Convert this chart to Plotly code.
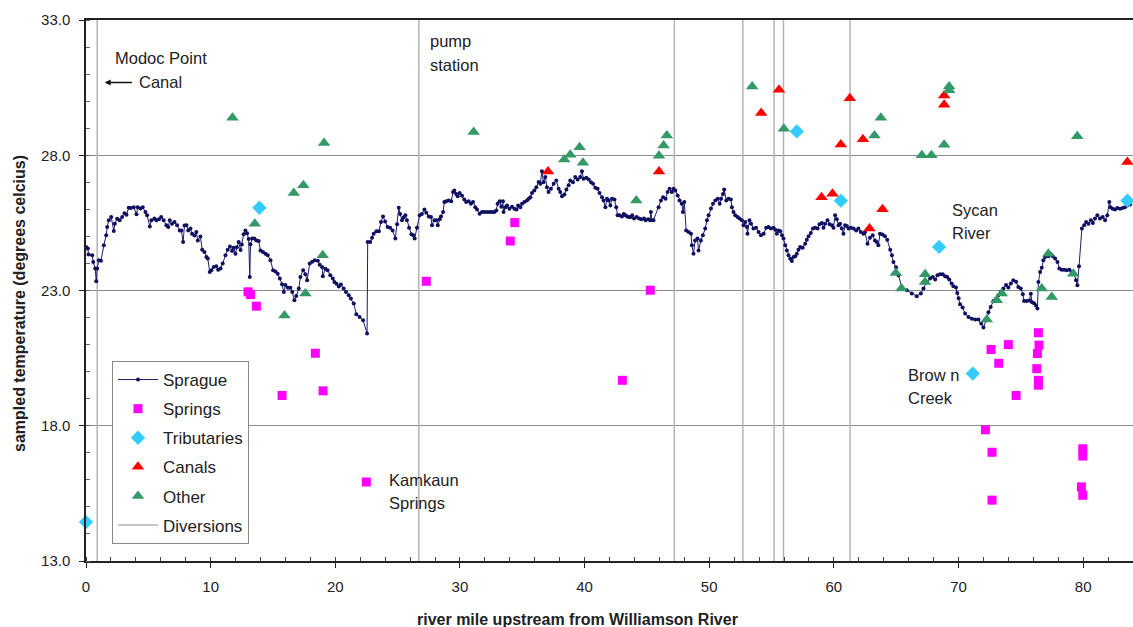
import plotly.graph_objects as go

# ---------------- data ----------------
sprague_x = [0.0,0.15,0.2,0.5,0.58,0.74,0.82,0.9,1.03,1.2,1.43,1.62,1.7,1.83,2.02,2.23,2.31,2.5,2.7,2.9,3.09,3.25,3.43,3.6,3.83,4.05,4.15,4.37,4.55,4.77,4.9,5.12,5.25,5.49,5.65,5.85,6.03,6.23,6.45,6.6,6.72,6.9,7.1,7.31,7.52,7.65,7.79,7.9,8.06,8.2,8.38,8.51,8.7,8.85,8.97,9.18,9.32,9.5,9.66,9.77,9.93,10.06,10.25,10.45,10.6,10.8,10.97,11.19,11.37,11.55,11.72,11.85,11.99,12.1,12.25,12.4,12.5,12.65,12.79,12.92,13.05,13.14,13.2,13.33,13.5,13.67,13.85,14.0,14.2,14.4,14.58,14.8,15.01,15.2,15.38,15.55,15.73,15.87,16.0,16.2,16.4,16.55,16.72,16.87,17.07,17.2,17.42,17.6,17.74,17.95,18.15,18.35,18.6,18.75,18.94,19.0,19.2,19.38,19.6,19.8,19.93,20.1,20.28,20.45,20.67,20.86,21.08,21.25,21.48,21.69,21.95,22.23,22.55,22.6,22.8,
 22.95,23.08,23.3,23.5,23.67,23.83,24.0,24.2,24.4,24.6,24.82,24.96,25.09,25.2,25.35,25.48,25.62,25.75,25.92,26.1,26.25,26.37,26.55,26.77,26.95,27.15,27.3,27.5,27.68,27.76,27.95,28.12,28.22,28.38,28.48,28.65,28.75,28.9,29.1,29.3,29.45,29.55,29.7,29.82,29.98,30.17,30.35,30.5,30.7,30.88,31.05,31.23,31.37,31.58,31.77,31.96,32.17,32.38,32.57,32.76,32.92,33.02,33.19,33.32,33.45,33.5,33.65,33.78,33.97,34.18,34.37,34.54,34.67,34.85,34.98,35.17,35.38,35.52,35.65,35.78,35.97,36.13,36.31,36.45,36.58,36.7,36.85,36.98,37.11,37.3,37.52,37.73,37.92,38.05,38.19,38.38,38.54,38.72,38.85,39.07,39.25,39.44,39.65,39.79,39.92,40.14,40.33,40.52,40.68,40.86,41.05,41.2,41.4,41.53,41.67,41.8,41.93,42.07,42.2,42.4,42.54,42.65,42.8,43.0,43.15,43.28,43.42,43.55,43.7,43.82,43.97,44.18,44.37,44.55,44.77,44.9,45.1,45.25,45.32,45.4,45.53,
 45.94,46.13,46.3,46.5,46.66,46.82,47.0,47.14,47.28,47.47,47.62,47.8,47.89,48.0,48.15,48.35,48.54,48.61,48.74,48.87,49.06,49.14,49.33,49.49,49.68,49.82,49.95,50.14,50.3,50.49,50.68,50.84,50.95,51.11,51.2,51.37,51.55,51.74,51.82,51.95,52.09,52.27,52.43,52.62,52.75,52.89,53.02,53.07,53.23,53.36,53.55,53.76,53.96,54.15,54.37,54.57,54.76,54.95,55.16,55.3,55.43,55.57,55.7,55.84,55.96,56.1,56.23,56.36,56.5,56.63,56.76,56.9,57.03,57.16,57.3,57.5,57.7,57.83,57.97,58.15,58.32,58.5,58.69,58.85,59.04,59.17,59.3,59.49,59.66,59.84,59.97,60.1,60.24,60.37,60.5,60.64,60.77,60.9,61.04,61.17,61.36,61.58,61.79,61.97,62.16,62.37,62.5,62.7,62.9,63.12,63.3,63.44,63.57,63.7,63.9,64.1,64.28,
 64.52,64.66,64.78,64.99,65.18,65.45,65.85,66.25,66.65,66.98,67.19,67.46,67.72,67.94,68.13,68.31,68.52,68.73,68.92,69.1,69.26,69.45,69.59,69.8,69.9,70.01,70.12,70.33,70.53,70.8,71.07,71.34,71.6,71.82,72.0,72.21,72.4,72.58,72.8,73.0,73.2,73.39,73.6,73.82,74.0,74.2,74.4,74.62,74.8,75.0,75.16,75.26,75.47,75.69,75.8,75.9,76.06,76.22,76.33,76.41,76.55,76.68,76.81,76.95,77.22,77.4,77.57,77.75,77.94,78.09,78.28,78.47,78.68,78.9,79.08,79.27,79.43,79.54,79.67,79.9,80.08,80.24,80.43,80.62,80.78,80.95,81.14,81.35,81.57,81.76,81.94,82.1,82.2,82.37,82.56,82.74,82.96,83.17,83.36,83.55,83.77]
sprague_y = [24.61,24.55,24.33,24.3,24.05,23.81,23.34,23.81,24.12,24.1,24.67,25.04,25.35,25.6,25.72,25.2,25.47,25.65,25.6,25.72,25.86,25.8,26.06,26.05,26.08,25.82,26.08,26.03,26.08,25.9,25.78,25.37,25.6,25.66,25.6,25.63,25.72,25.6,25.41,25.35,25.6,25.47,25.53,25.41,25.22,25.22,24.79,25.4,25.41,25.22,25.29,25.1,25.03,25.16,24.85,25.0,24.51,24.42,24.24,24.18,23.68,23.75,23.87,23.9,23.77,23.81,24.0,24.3,24.51,24.63,24.46,24.58,24.36,24.6,24.79,24.5,24.7,25.08,25.22,25.12,24.9,23.5,24.71,24.92,24.92,24.85,24.83,24.48,24.42,24.36,24.3,24.12,23.75,23.7,23.62,23.44,23.23,22.94,23.2,23.1,23.1,22.94,22.64,22.8,23.07,23.5,23.75,23.6,23.38,24.0,24.06,24.12,24.1,23.95,23.87,23.53,23.8,23.75,23.56,23.44,23.31,23.25,23.15,23.22,23.07,22.94,22.82,22.7,22.52,22.12,22.02,21.9,21.41,24.79,24.79,
 24.95,25.1,25.19,25.19,25.53,25.74,25.55,25.35,25.32,25.22,24.92,25.45,26.06,25.83,25.6,25.7,25.78,25.6,25.32,25.08,25.04,24.92,25.32,25.78,25.83,25.99,25.87,25.74,25.72,25.41,25.6,25.6,25.41,25.63,25.74,25.9,26.27,26.3,26.33,26.3,26.64,26.7,26.57,26.48,26.6,26.5,26.36,26.27,26.3,26.21,26.27,26.08,25.99,25.84,25.9,25.9,25.9,25.9,25.9,25.9,25.96,26.21,26.3,26.1,26.3,25.9,26.08,26.14,26.02,26.1,26.02,25.99,26.14,26.08,26.21,26.27,26.33,26.39,26.45,26.6,26.7,26.82,27.01,26.95,27.41,27.0,27.2,26.82,26.64,26.76,26.95,27.07,26.76,26.64,26.48,26.55,26.73,26.89,27.07,27.0,27.2,27.1,27.2,27.41,27.13,27.17,27.1,27.0,26.95,26.8,26.76,26.6,26.45,26.33,26.08,26.39,26.33,26.14,26.39,26.36,26.08,25.78,25.78,25.74,25.83,25.78,25.74,25.72,25.72,25.78,25.66,25.72,25.66,25.63,25.66,25.6,25.63,25.6,25.9,25.6,25.6,
 26.08,26.33,26.45,26.39,26.64,26.76,26.64,26.76,26.7,26.51,26.33,26.21,25.9,26.27,25.22,25.16,25.1,24.67,24.36,24.85,24.92,24.48,24.85,25.04,25.29,25.6,25.78,26.03,26.21,26.33,26.39,26.21,26.39,26.57,26.73,26.33,26.39,26.36,26.08,25.9,25.78,25.72,25.66,25.6,25.41,25.53,25.35,25.1,25.6,25.47,25.29,25.32,25.16,25.04,25.1,25.32,25.35,25.29,25.32,25.25,25.1,25.22,25.19,25.04,24.92,24.67,24.48,24.3,24.17,24.09,24.24,24.27,24.36,24.51,24.61,24.58,24.73,24.88,25.01,25.13,25.29,25.32,25.29,25.45,25.5,25.32,25.47,25.6,25.45,25.41,25.32,25.78,25.63,25.41,25.47,25.29,25.1,25.41,25.38,25.29,25.32,25.29,25.22,25.29,25.16,25.1,25.16,24.73,24.95,25.04,24.85,24.79,24.67,25.1,25.07,25.01,24.88,
 24.51,24.3,24.05,23.86,23.56,23.13,23.01,22.89,22.79,22.89,23.07,23.31,23.44,23.5,23.41,23.56,23.6,23.6,23.53,23.5,23.41,23.26,23.16,23.11,22.91,22.71,22.49,22.37,22.15,22.02,21.96,21.93,21.93,21.78,21.63,21.9,22.2,22.39,22.61,22.69,22.82,22.95,23.07,23.2,23.11,23.26,23.38,23.32,23.13,23.07,22.86,22.61,22.61,22.63,22.88,22.57,22.53,22.45,22.33,23.31,23.68,23.84,24.12,24.24,24.27,24.35,24.27,24.18,24.05,23.81,23.77,23.77,23.75,23.77,23.68,23.62,23.38,23.19,23.9,25.29,25.41,25.53,25.47,25.6,25.5,25.66,25.78,25.66,25.72,25.6,25.78,26.27,26.08,26.02,25.99,26.05,26.02,26.05,26.08,26.14,26.18]

springs_x = [13.0,13.2,13.67,18.4,15.73,19.02,22.49,27.3,34.04,34.4,43.03,45.27,
             76.41,72.61,74.0,76.46,76.33,73.23,76.28,76.41,76.41,74.62,72.16,72.69,72.69,79.97,79.97,79.86,79.97]
springs_y = [22.95,22.85,22.42,20.68,19.12,19.29,15.92,23.34,24.83,25.51,19.68,23.01,
             21.44,20.82,21.0,20.98,20.67,20.31,20.11,19.68,19.5,19.12,17.85,17.02,15.25,17.15,16.88,15.74,15.43]

trib_x = [0.0,13.91,57.03,60.56,68.44,83.55,71.15]
trib_y = [14.44,26.06,28.88,26.32,24.61,26.32,19.93]

canal_x = [37.07,45.97,54.17,55.6,61.28,60.56,62.33,59.01,59.89,63.9,62.86,68.85,68.85,83.55]
canal_y = [27.4,27.4,29.56,30.42,30.11,28.4,28.59,26.45,26.58,26.0,25.29,30.21,29.87,27.75]

other_x = [11.75,19.1,16.67,17.44,13.54,18.99,17.6,15.92,31.1,38.37,38.85,39.6,39.87,44.15,45.97,46.34,46.6,
           53.45,55.99,63.77,63.26,67.06,67.83,68.85,69.25,69.25,79.53,64.97,65.42,67.32,67.32,72.27,73.07,73.47,
           76.68,77.48,77.21,79.21]
other_y = [29.39,28.45,26.6,26.89,25.47,24.3,22.89,22.08,28.86,27.84,28.02,28.3,27.72,26.33,27.98,28.36,28.73,
           30.54,28.98,29.39,28.73,28.0,28.0,28.39,30.54,30.4,28.7,23.65,23.07,23.6,23.31,21.93,22.64,22.89,
           23.07,22.76,24.36,23.62]

diversion_miles = [0.9, 26.7, 47.2, 52.7, 55.2, 55.96, 61.3]
y_range = [13.0, 33.0]
x_range = [0.0, 84.0]

# ---------------- figure ----------------
FONT = "Liberation Sans, Arial, sans-serif"
TXT = "#222222"
fig = go.Figure()

div_x, div_y = [], []
for m in diversion_miles:
    div_x += [m, m, None]
    div_y += [y_range[0], y_range[1], None]

fig.add_trace(go.Scatter(x=div_x, y=div_y, mode="lines", name="Diversions",
                         line=dict(color="#b4b4b4", width=1.5), legendrank=6,
                         legendgroup="g6"))
fig.add_trace(go.Scatter(x=sprague_x, y=sprague_y, mode="lines+markers", name="Sprague",
                         line=dict(color="#1c1c6b", width=1),
                         marker=dict(color="#101060", size=4), legendrank=1,
                         legendgroup="g1"))
fig.add_trace(go.Scatter(x=springs_x, y=springs_y, mode="markers", name="Springs",
                         marker=dict(symbol="square", color="#ff00ff", size=9),
                         legendrank=2, legendgroup="g2"))
fig.add_trace(go.Scatter(x=trib_x, y=trib_y, mode="markers", name="Tributaries",
                         marker=dict(symbol="diamond", color="#33ccff", size=11),
                         legendrank=3, legendgroup="g3", cliponaxis=False))
fig.add_trace(go.Scatter(x=canal_x, y=canal_y, mode="markers", name="Canals",
                         marker=dict(symbol="triangle-up", color="#ff0000", size=11),
                         legendrank=4, legendgroup="g4", cliponaxis=False))
fig.add_trace(go.Scatter(x=other_x, y=other_y, mode="markers", name="Other",
                         marker=dict(symbol="triangle-up", color="#339966", size=11),
                         legendrank=5, legendgroup="g5"))

def label(text, x, y):
    fig.add_annotation(x=x, y=y, xref="x", yref="y", text=text, showarrow=False,
                       xanchor="left", yanchor="middle",
                       font=dict(family=FONT, size=16.5, color=TXT))

label("Modoc Point", 2.2, 31.61)
label("Canal", 4.13, 30.69)
fig.add_annotation(x=1.5, y=30.69, ax=3.8, ay=30.69, xref="x", yref="y", axref="x", ayref="y",
                   text="", showarrow=True, arrowhead=2, arrowsize=0.8, arrowwidth=1.5,
                   arrowcolor="#111111")
label("pump", 27.47, 32.24)
label("station", 27.47, 31.32)
label("Kamkaun", 24.18, 15.99)
label("Springs", 24.18, 15.14)
label("Sycan", 69.33, 25.96)
label("River", 69.33, 25.11)
label("Brow n", 65.79, 19.87)
label("Creek", 65.79, 19.02)

# axis titles as annotations (placed relative to the plot area)
fig.add_annotation(x=(577 - 86) / 1047, y=-(619 - 561) / 541, xref="paper", yref="paper",
                   text="<b>river mile upstream from Williamson River</b>", showarrow=False,
                   xanchor="center", yanchor="middle",
                   font=dict(family=FONT, size=16, color=TXT))
fig.add_annotation(x=-(86 - 19) / 1047, y=(561 - 304) / 541, xref="paper", yref="paper",
                   text="<b>sampled temperature (degrees celcius)</b>", showarrow=False,
                   textangle=-90, xanchor="center", yanchor="middle",
                   font=dict(family=FONT, size=16, color=TXT))

fig.update_layout(
    width=1133, height=627,
    margin=dict(l=86, r=0, t=20, b=66, autoexpand=False),
    paper_bgcolor="white", plot_bgcolor="white",
    font=dict(family=FONT, size=15, color=TXT),
    showlegend=True,
    legend=dict(x=(112 - 86) / 1047, y=(561 - 361) / 541, xanchor="left", yanchor="top",
                bgcolor="white", bordercolor="#888888", borderwidth=1,
                font=dict(family=FONT, size=17, color=TXT),
                tracegroupgap=4, itemwidth=40),
    xaxis=dict(range=x_range, dtick=10, tick0=0, showgrid=False, zeroline=False,
               automargin=False,
               showline=True, linecolor="#222222", linewidth=1.5, mirror=True,
               ticks="outside", ticklen=5, tickcolor="#222222", ticklabelstandoff=6,
               minor=dict(dtick=2, ticks="inside", ticklen=4, tickcolor="#444444", showgrid=False),
               tickfont=dict(family=FONT, size=15, color=TXT)),
    yaxis=dict(range=y_range, dtick=5, tick0=13, tickformat=".1f", showgrid=True,
               automargin=False,
               gridcolor="#8c8c8c", gridwidth=1.2, zeroline=False,
               showline=True, linecolor="#222222", linewidth=1.5,
               ticks="outside", ticklen=5, tickcolor="#222222", ticklabelstandoff=6,
               minor=dict(dtick=1, ticks="inside", ticklen=4, tickcolor="#666666", showgrid=False),
               tickfont=dict(family=FONT, size=15, color=TXT)),
)

fig.write_html("out.html", config={"displayModeBar": False},
               post_script="document.body.style.margin='0';document.body.style.overflow='hidden';")
